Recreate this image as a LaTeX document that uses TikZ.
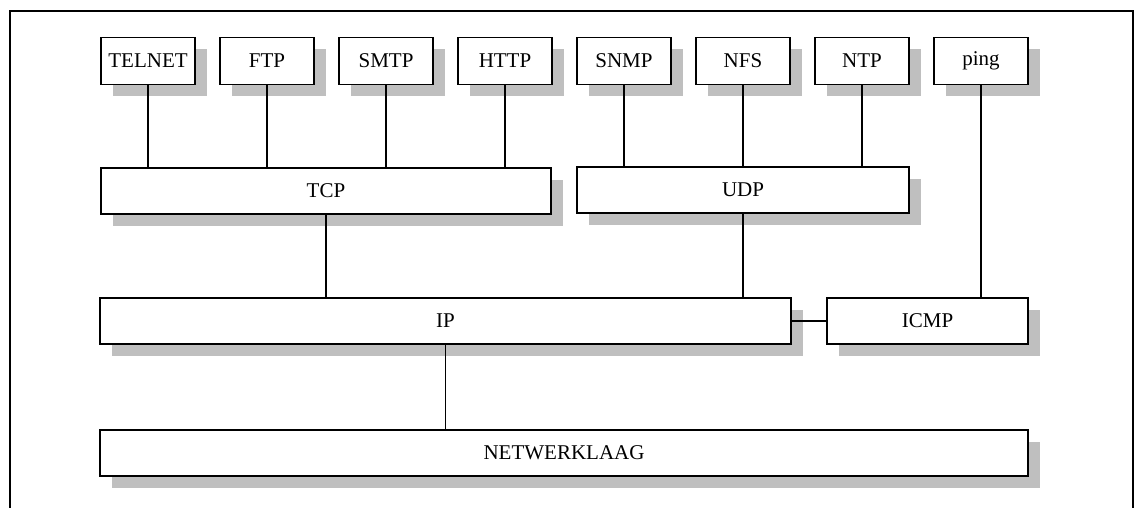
\documentclass[tikz,border=0pt]{standalone}
\usepackage{fontspec}
\setmainfont{Liberation Serif}
\usetikzlibrary{shadows}
\tikzset{
  box/.style={draw=black, fill=white, line width=1.4pt, inner sep=0pt,
    minimum height=46pt, font=\fontsize{21}{25}\selectfont,
    drop shadow={shadow xshift=12pt, shadow yshift=-12pt, fill=black!25, opacity=1}},
  top/.style={box, minimum width=94pt, minimum height=47pt},
  link/.style={line width=1.4pt},
  frame/.style={line width=1.6pt}
}
\begin{document}
\begin{tikzpicture}[x=1pt,y=-1pt]
\useasboundingbox (0,0) rectangle (1138,508);
\draw[frame] (10,508) -- (10,11) -- (1133,11) -- (1133,508);
\node[top] (telnet) at (148,61) {TELNET};
\node[top] (ftp) at (267,61) {FTP};
\node[top] (smtp) at (386,61) {SMTP};
\node[top] (http) at (505,61) {HTTP};
\node[top] (snmp) at (624,61) {SNMP};
\node[top] (nfs) at (743,61) {NFS};
\node[top] (ntp) at (862,61) {NTP};
\node[top] (ping) at (981,61) {ping};
\node[box, minimum width=450pt] (tcp) at (326,191) {TCP};
\node[box, minimum width=332pt] (udp) at (743,190) {UDP};
\node[box, minimum width=691pt] (ip) at (445.5,321) {IP};
\node[box, minimum width=201pt] (icmp) at (927.5,321) {ICMP};
\node[box, minimum width=928pt] (net) at (564,453) {NETWERKLAAG};
\foreach \a/\b in {telnet/tcp, ftp/tcp, smtp/tcp, http/tcp, snmp/udp, nfs/udp, ntp/udp, ping/icmp}
  \draw[link] (\a.south) -- (\a.south |- \b.north);
\draw[link] (tcp.south) -- (tcp.south |- ip.north);
\draw[link] (udp.south) -- (udp.south |- ip.north);
\draw[link] (ip.south) -- (ip.south |- net.north);
\draw[link] (ip.east) -- (icmp.west);
\end{tikzpicture}
\end{document}
